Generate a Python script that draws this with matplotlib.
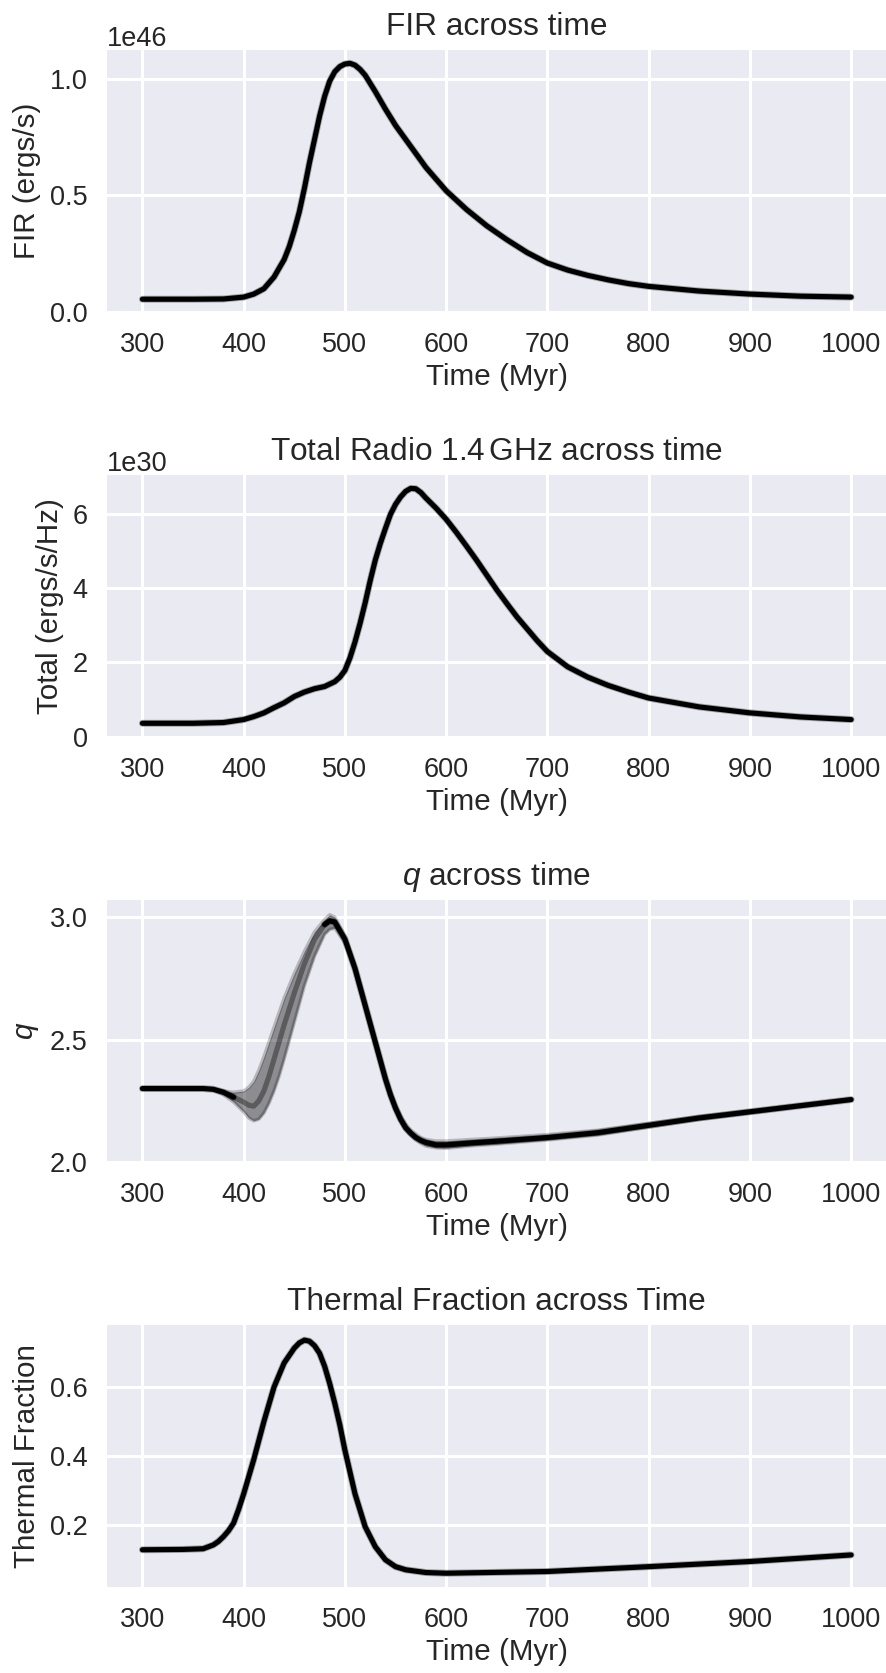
import numpy as np
import matplotlib
matplotlib.use("Agg")
import matplotlib.pyplot as plt
import seaborn as sns

# ---------------- data ----------------
fir_t = [300, 350, 380, 400, 410, 420, 430, 440, 445, 450, 455, 460, 465, 470, 475, 480,
         485, 490, 495, 500, 505, 510, 515, 520, 525, 530, 540, 550, 560, 570, 580, 600,
         620, 640, 660, 680, 700, 720, 740, 760, 780, 800, 850, 900, 950, 1000]
fir_e46 = [0.055, 0.055, 0.056, 0.064, 0.077, 0.10, 0.15, 0.225, 0.28, 0.35, 0.43, 0.53,
           0.64, 0.74, 0.84, 0.925, 0.99, 1.03, 1.052, 1.063, 1.066, 1.058, 1.04, 1.015,
           0.98, 0.945, 0.87, 0.80, 0.74, 0.68, 0.62, 0.52, 0.44, 0.37, 0.31, 0.255, 0.21,
           0.18, 0.157, 0.138, 0.122, 0.11, 0.09, 0.077, 0.068, 0.064]

rad_t = [300, 350, 380, 400, 410, 420, 430, 440, 450, 460, 470, 480, 490, 495, 500, 505,
         510, 515, 520, 525, 530, 535, 540, 545, 550, 555, 560, 565, 570, 575, 580, 590,
         600, 610, 620, 630, 640, 650, 660, 670, 680, 690, 700, 720, 740, 760, 780, 800,
         850, 900, 950, 1000]
rad_e30 = [0.36, 0.36, 0.38, 0.46, 0.54, 0.64, 0.78, 0.91, 1.08, 1.20, 1.29, 1.35, 1.48,
           1.60, 1.78, 2.12, 2.55, 3.05, 3.6, 4.2, 4.75, 5.2, 5.6, 5.98, 6.25, 6.45, 6.6,
           6.68, 6.67, 6.57, 6.42, 6.15, 5.85, 5.5, 5.13, 4.75, 4.35, 3.95, 3.58, 3.22,
           2.9, 2.58, 2.29, 1.88, 1.6, 1.38, 1.2, 1.04, 0.8, 0.64, 0.53, 0.46]

q_t = [300, 340, 360, 370, 380, 390, 400, 405, 410, 415, 420, 425, 430, 435, 440, 450,
       460, 470, 480, 485, 490, 500, 510, 520, 530, 540, 545, 550, 555, 560, 565, 570,
       575, 580, 590, 600, 625, 650, 700, 750, 800, 850, 900, 950, 1000]
q_mid = [2.30, 2.30, 2.30, 2.297, 2.285, 2.265, 2.245, 2.232, 2.228, 2.25, 2.29, 2.35,
         2.42, 2.49, 2.56, 2.69, 2.81, 2.91, 2.97, 2.985, 2.98, 2.91, 2.79, 2.64, 2.49,
         2.34, 2.275, 2.22, 2.175, 2.14, 2.118, 2.10, 2.088, 2.08, 2.07, 2.07, 2.078,
         2.085, 2.10, 2.12, 2.15, 2.18, 2.205, 2.23, 2.255]
q_lo = [2.30, 2.30, 2.30, 2.294, 2.275, 2.245, 2.205, 2.18, 2.168, 2.175, 2.20, 2.24,
        2.29, 2.35, 2.42, 2.57, 2.72, 2.84, 2.93, 2.95, 2.955, 2.895, 2.775, 2.625,
        2.475, 2.325, 2.262, 2.21, 2.165, 2.13, 2.108, 2.09, 2.076, 2.065, 2.058, 2.056,
        2.066, 2.073, 2.09, 2.11, 2.142, 2.174, 2.20, 2.226, 2.252]
q_hi = [2.30, 2.30, 2.30, 2.30, 2.29, 2.285, 2.29, 2.305, 2.33, 2.375, 2.43, 2.49,
        2.55, 2.61, 2.67, 2.77, 2.86, 2.94, 2.99, 3.01, 3.00, 2.925, 2.805, 2.655,
        2.505, 2.355, 2.29, 2.235, 2.19, 2.155, 2.13, 2.115, 2.10, 2.092, 2.086, 2.086,
        2.092, 2.098, 2.112, 2.13, 2.158, 2.186, 2.21, 2.234, 2.258]

th_t = [300, 340, 360, 370, 375, 380, 385, 390, 395, 400, 410, 420, 430, 440, 450, 455,
        460, 465, 470, 475, 480, 485, 490, 495, 500, 510, 520, 530, 540, 550, 560, 580,
        600, 700, 800, 900, 1000]
th_frac = [0.128, 0.129, 0.131, 0.142, 0.152, 0.166, 0.183, 0.205, 0.245, 0.29, 0.39,
           0.50, 0.60, 0.67, 0.713, 0.728, 0.736, 0.733, 0.72, 0.698, 0.66, 0.61, 0.553,
           0.49, 0.417, 0.29, 0.195, 0.137, 0.099, 0.079, 0.07, 0.062, 0.06, 0.065, 0.079,
           0.094, 0.113]

titles = ["FIR across time", r"Total Radio 1.4$\,$GHz across time",
          r"$q$ across time", "Thermal Fraction across Time"]
ylabels = ["FIR (ergs/s)", "Total (ergs/s/Hz)", r"$q$", "Thermal Fraction"]
xlabel = "Time (Myr)"
xticks = [300, 400, 500, 600, 700, 800, 900, 1000]

# ---------------- style ----------------
sns.set_theme(style="darkgrid", context="talk")
plt.rcParams["font.family"] = ["Liberation Sans", "DejaVu Sans"]
plt.rcParams["mathtext.fontset"] = "custom"
plt.rcParams["mathtext.rm"] = "Liberation Sans"
plt.rcParams["mathtext.it"] = "Liberation Sans:italic"
plt.rcParams["axes.facecolor"] = "#EAEAF2"
plt.rcParams["axes.edgecolor"] = "white"
plt.rcParams["axes.linewidth"] = 0

BLACK = "#000000"

fig, axes = plt.subplots(4, 1, figsize=(8.87, 16.73), dpi=100)
fig.subplots_adjust(left=0.1206, right=0.9995, top=0.9701, bottom=0.0514, hspace=0.622)

tick_fs = 19.5
lab_fs = 21.3
title_fs = 22.8
txt = "#262626"


def draw(ax, t, y, scale=1.0):
    y = np.asarray(y) * scale
    ax.plot(t, y, color=BLACK, lw=5.0, alpha=0.3, solid_capstyle="round")
    ax.plot(t, y, color=BLACK, lw=3.7, alpha=1.0, solid_capstyle="round")


draw(axes[0], fir_t, fir_e46, 1e46)
draw(axes[1], rad_t, rad_e30, 1e30)

# q: spread of the ensemble drawn as a translucent band, the core line solid
# where the runs agree and translucent where they spread out
axq = axes[2]
qt = np.asarray(q_t, dtype=float)
qm = np.asarray(q_mid)
axq.fill_between(qt, q_lo, q_hi, color=BLACK, alpha=0.40, lw=0)
axq.plot(qt, q_lo, color=BLACK, lw=2.5, alpha=0.22)
axq.plot(qt, q_hi, color=BLACK, lw=2.5, alpha=0.22)
spread = (qt > 392) & (qt < 476)
solid = np.where(spread, np.nan, qm)
soft = np.where((qt >= 390) & (qt <= 480), qm, np.nan)
axq.plot(qt, soft, color=BLACK, lw=3.7, alpha=0.35, solid_capstyle="round")
axq.plot(qt, solid, color=BLACK, lw=5.0, alpha=0.3, solid_capstyle="round")
axq.plot(qt, solid, color=BLACK, lw=3.7, alpha=1.0, solid_capstyle="round")

draw(axes[3], th_t, th_frac)

for ax, title, yl in zip(axes, titles, ylabels):
    ax.set_title(title, fontsize=title_fs, pad=11, color=txt)
    ax.set_ylabel(yl, fontsize=lab_fs, labelpad=6, color=txt)
    ax.set_xlabel(xlabel, fontsize=lab_fs, labelpad=4, color=txt)
    ax.set_xticks(xticks)
    ax.tick_params(axis="x", labelsize=tick_fs, length=0, pad=14.2, colors=txt)
    ax.tick_params(axis="y", labelsize=tick_fs, length=0, pad=14, colors=txt)
    ax.yaxis.get_offset_text().set_fontsize(tick_fs)
    ax.yaxis.get_offset_text().set_color(txt)
    ax.grid(True, color="white", lw=2.2)

axes[0].set_yticks([0.0, 0.5e46, 1.0e46])
axes[1].set_yticks([0, 2e30, 4e30, 6e30])
axes[2].set_yticks([2.0, 2.5, 3.0])
axes[3].set_yticks([0.2, 0.4, 0.6])
axes[0].set_ylim(0, 1.123e46)
axes[1].set_ylim(-0.01e30, 7.04e30)
axes[2].set_ylim(2.0, 3.07)
axes[3].set_ylim(0.02, 0.78)
for ax in axes:
    ax.set_xlim(265, 1035)

fig.savefig("out.png", dpi=100)
